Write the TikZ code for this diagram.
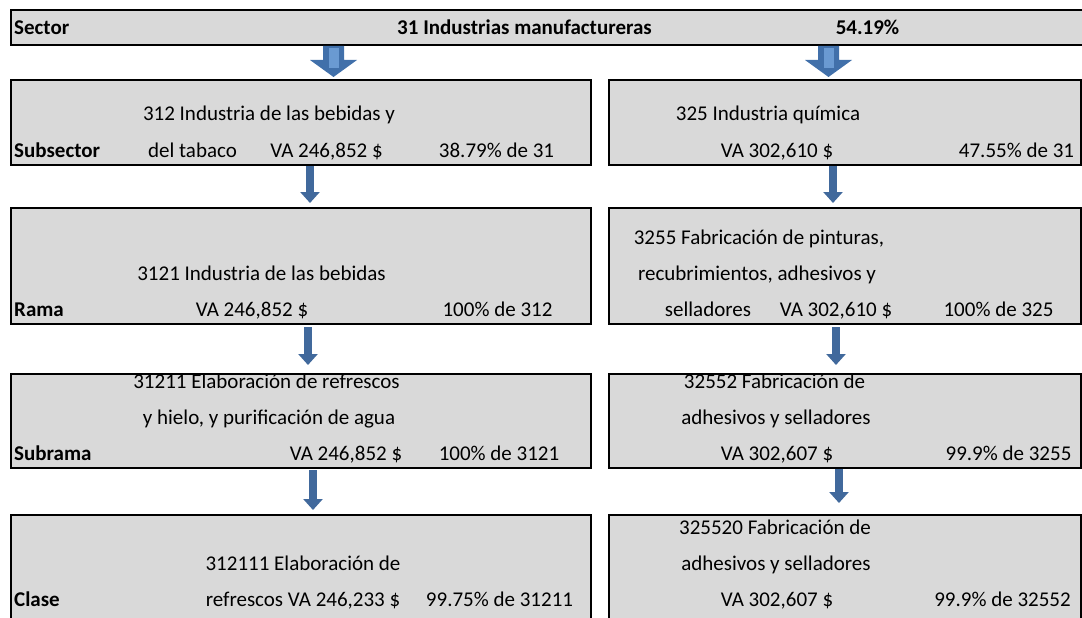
\documentclass[tikz,border=0pt]{standalone}
\usepackage{fontspec}
\setmainfont{Carlito}
\usetikzlibrary{arrows.meta}
\definecolor{boxgray}{HTML}{D9D9D9}
\definecolor{arrblue}{HTML}{41699C}
\definecolor{blockblue}{HTML}{4170AA}
\definecolor{blocklight}{HTML}{6A9AD2}
\begin{document}
\begin{tikzpicture}[x=1pt,y=-1pt,
  box/.style={draw=black, line width=2pt, fill=boxgray, rectangle, inner sep=0pt, anchor=north west},
  txt/.style={inner sep=0pt, anchor=base, font=\fontsize{21}{25}\selectfont},
  btxt/.style={txt, font=\fontsize{21}{25}\selectfont\bfseries},
  arr/.style={draw=arrblue, line width=7.5pt, -{Triangle[width=19pt,length=11pt]}}
]
\useasboundingbox (0,0) rectangle (1082,618);
% boxes
\node[box, minimum width=1090pt, minimum height=35pt] (sec) at (10,9) {};
\node[box, minimum width=580pt, minimum height=85pt] (sbL) at (10,79) {};
\node[box, minimum width=472pt, minimum height=85pt] (sbR) at (608,79) {};
\node[box, minimum width=580pt, minimum height=116pt] (raL) at (10,207) {};
\node[box, minimum width=472pt, minimum height=116pt] (raR) at (608,207) {};
\node[box, minimum width=580pt, minimum height=94pt] (srL) at (10,373) {};
\node[box, minimum width=472pt, minimum height=94pt] (srR) at (608,373) {};
\node[box, minimum width=580pt, minimum height=130pt] (clL) at (10,514) {};
\node[box, minimum width=472pt, minimum height=130pt] (clR) at (608,514) {};
% block arrows from sector
\foreach \cx/\nm in {333.5/baL, 828.5/baR}{
  \coordinate (\nm) at (\cx,0);
  \fill[blockblue] (sec.south -| \nm) ++(-10.5,0) -- ++(21,0) -- ++(0,14) -- ++(13,0) -- ++(-23.5,17) -- ++(-23.5,-17) -- ++(13,0) -- cycle;
  \fill[blocklight] (sec.south -| \nm) ++(-5,2) rectangle ++(10,20);
}
% simple arrows
\draw[arr, shorten >=4pt] ([xshift=9pt]sbL.south) -- ([xshift=9pt]raL.north);
\draw[arr, shorten <=2pt, shorten >=8pt] ([xshift=7pt]raL.south) -- ([xshift=7pt]srL.north);
\draw[arr, shorten <=1pt, shorten >=4pt] ([xshift=12pt]srL.south) -- ([xshift=12pt]clL.north);
\draw[arr, shorten >=4pt] ([xshift=-12pt]sbR.south) -- ([xshift=-12pt]raR.north);
\draw[arr, shorten <=2pt, shorten >=8pt] ([xshift=-9pt]raR.south) -- ([xshift=-9pt]srR.north);
\draw[arr, shorten >=11pt] ([xshift=-6pt]srR.south) -- ([xshift=-6pt]clR.north);
% sector texts
\node[btxt, anchor=base west] (t01) at (14,35) {Sector};
\node[btxt] (t02) at (524.5,35) {31 Industrias manufactureras};
\node[btxt] (t03) at (867.5,35) {54.19\%};
% subsector
\node[txt] (t11) at (269,120) {312 Industria de las bebidas y};
\node[btxt, anchor=base west] (t12) at (14,157) {Subsector};
\node[txt] (t13) at (192.5,157) {del tabaco};
\node[txt] (t14) at (326.5,157) {VA 246,852 \$};
\node[txt] (t15) at (496.5,157) {38.79\% de 31};
\node[txt] (t16) at (768,120) {325 Industria química};
\node[txt] (t17) at (777,157) {VA 302,610 \$};
\node[txt] (t18) at (1016.5,157) {47.55\% de 31};
% rama
\node[txt] (t21) at (261.5,280) {3121 Industria de las bebidas};
\node[btxt, anchor=base west] (t22) at (14,316) {Rama};
\node[txt] (t23) at (252,316) {VA 246,852 \$};
\node[txt] (t24) at (497.5,316) {100\% de 312};
\node[txt] (t25) at (759,244) {3255 Fabricación de pinturas,};
\node[txt] (t26) at (757,280) {recubrimientos, adhesivos y};
\node[txt] (t27) at (708,316) {selladores};
\node[txt] (t28) at (836,316) {VA 302,610 \$};
\node[txt] (t29) at (998.5,316) {100\% de 325};
% subrama
\node[txt] (t31) at (266.5,388) {31211 Elaboración de refrescos};
\node[txt] (t32) at (269,424) {y hielo, y purificación de agua};
\node[btxt, anchor=base west] (t33) at (14,460) {Subrama};
\node[txt] (t34) at (346,460) {VA 246,852 \$};
\node[txt] (t35) at (499,460) {100\% de 3121};
\node[txt] (t36) at (774.5,388) {32552 Fabricación de};
\node[txt] (t37) at (776,424) {adhesivos y selladores};
\node[txt] (t38) at (777,460) {VA 302,607 \$};
\node[txt] (t39) at (1008.5,460) {99.9\% de 3255};
% clase
\node[txt] (t41) at (303,570) {312111 Elaboración de};
\node[btxt, anchor=base west] (t42) at (14,606) {Clase};
\node[txt] (t43) at (303,606) {refrescos VA 246,233 \$};
\node[txt] (t44) at (499.5,606) {99.75\% de 31211};
\node[txt] (t45) at (775,534) {325520 Fabricación de};
\node[txt] (t46) at (776,570) {adhesivos y selladores};
\node[txt] (t47) at (777,606) {VA 302,607 \$};
\node[txt] (t48) at (1002.5,606) {99.9\% de 32552};
\end{tikzpicture}
\end{document}
